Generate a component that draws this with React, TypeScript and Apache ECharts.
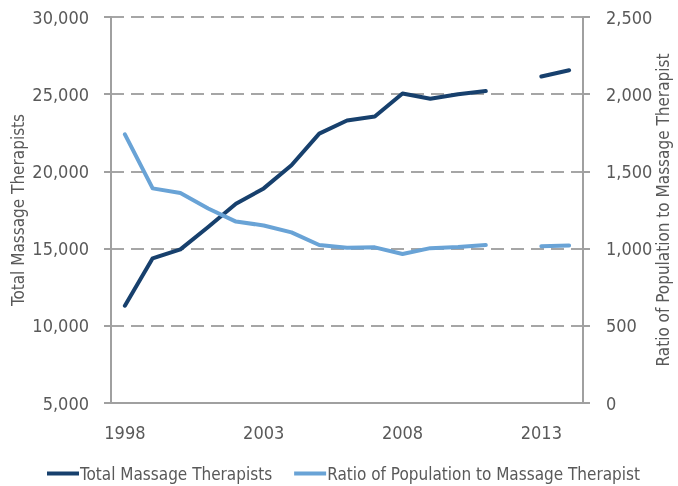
import React, { useEffect, useRef } from "react";
import * as echarts from "echarts";

const years = ["1998","1999","2000","2001","2002","2003","2004","2005","2006","2007","2008","2009","2010","2011","2012","2013","2014"];
const totalTherapists = [11300,14370,14950,16400,17900,18900,20400,22450,23300,23550,25050,24700,25000,25200,null,26150,26550];
const ratioPopulation = [1740,1390,1360,1260,1175,1150,1105,1023,1005,1008,965,1003,1010,1023,null,1016,1020];

const FONT = "'DejaVu Sans Condensed', 'Liberation Sans Narrow', 'Arial Narrow', sans-serif";
const TEXT = "#595959";
const AXIS = "#a0a0a0";

export default function App() {
  const ref = useRef<HTMLDivElement>(null);
  useEffect(() => {
    const chart = echarts.init(ref.current!, null, { renderer: "svg" });
    chart.setOption({
      animation: false,
      textStyle: { fontFamily: FONT },
      grid: { left: 111, right: 95, top: 17, bottom: 83, containLabel: false, outerBoundsMode: "none" },
      legend: {
        top: 460,
        left: 42,
        itemGap: 22,
        itemWidth: 32,
        itemHeight: 4,
        icon: "rect",
        textStyle: { fontFamily: FONT, fontSize: 17, color: TEXT, padding: [0, 0, 0, -4] },
        data: ["Total Massage Therapists", "Ratio of Population to Massage Therapist"],
      },
      xAxis: {
        type: "category",
        data: years,
        boundaryGap: true,
        axisLine: { lineStyle: { color: AXIS, width: 2 } },
        axisTick: { interval: 4, length: 7, lineStyle: { color: AXIS, width: 2 } },
        axisLabel: { interval: 4, fontFamily: FONT, fontSize: 18, color: TEXT, margin: 20 },
        splitLine: { show: false },
      },
      yAxis: [
        {
          type: "value",
          min: 5000,
          max: 30000,
          interval: 5000,
          name: "Total Massage Therapists",
          nameLocation: "middle",
          nameGap: 85,
          nameMoveOverlap: false,
          nameTextStyle: { fontFamily: FONT, fontSize: 17, color: TEXT },
          axisLine: { show: true, lineStyle: { color: AXIS, width: 2 } },
          axisTick: { show: true, length: 7, lineStyle: { color: AXIS, width: 2 } },
          axisLabel: {
            fontFamily: FONT, fontSize: 18, color: TEXT, margin: 22,
            formatter: (v: number) => v.toLocaleString("en-US"),
          },
          splitLine: { show: true, lineStyle: { color: "#a6a6a6", width: 2, type: [13, 7] } },
        },
        {
          type: "value",
          min: 0,
          max: 2500,
          interval: 500,
          position: "right",
          name: "Ratio of Population to Massage Therapist",
          nameLocation: "middle",
          nameGap: 71,
          nameMoveOverlap: false,
          nameTextStyle: { fontFamily: FONT, fontSize: 17, color: TEXT },
          axisLine: { show: true, lineStyle: { color: AXIS, width: 2 } },
          axisTick: { show: true, length: 7, lineStyle: { color: AXIS, width: 2 } },
          axisLabel: {
            fontFamily: FONT, fontSize: 18, color: TEXT, margin: 23,
            formatter: (v: number) => v.toLocaleString("en-US"),
          },
          splitLine: { show: false },
        },
      ],
      series: [
        {
          name: "Total Massage Therapists",
          type: "line",
          yAxisIndex: 0,
          data: totalTherapists,
          connectNulls: false,
          showSymbol: false,
          symbol: "none",
          color: "#17406d",
          lineStyle: { color: "#17406d", width: 4, cap: "round", join: "round" },
        },
        {
          name: "Ratio of Population to Massage Therapist",
          type: "line",
          yAxisIndex: 1,
          data: ratioPopulation,
          connectNulls: false,
          showSymbol: false,
          symbol: "none",
          color: "#69a3d6",
          lineStyle: { color: "#69a3d6", width: 4, cap: "round", join: "round" },
        },
      ],
    });
    return () => chart.dispose();
  }, []);
  return <div ref={ref} style={{ position: "fixed", left: 0, top: 0, width: 678, height: 486 }} />;
}
